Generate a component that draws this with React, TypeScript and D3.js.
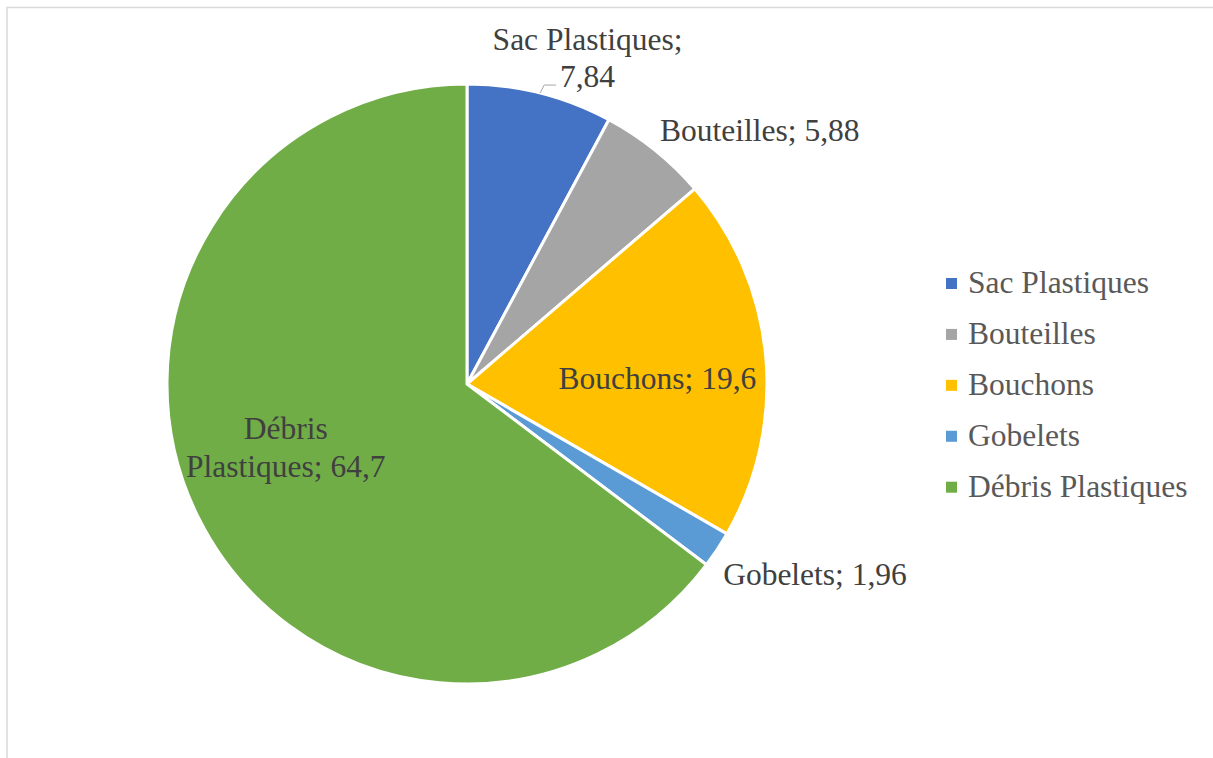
import React from "react";
import * as d3 from "d3";

const categories = ["Sac Plastiques", "Bouteilles", "Bouchons", "Gobelets", "Débris Plastiques"];
const values = [7.84, 5.88, 19.6, 1.96, 64.7];
const valueLabels = ["7,84", "5,88", "19,6", "1,96", "64,7"];
const colors = ["#4472C4", "#A5A5A5", "#FFC000", "#5B9BD5", "#70AD47"];

const W = 1213;
const H = 758;
const CX = 467;
const CY = 384;
const R = 300;
const FONT = "'Liberation Serif', 'Times New Roman', serif";
const FS = 31.5;

// label layout: radius factor, offsets, anchor, line breaks
const layout = [
  { k: 1, dx: 47.4, dy: -43, anchor: "middle", lines: (c: string, v: string) => [c + ";", v], leader: true },
  { k: 1, dx: 5, dy: -9, anchor: "start", lines: (c: string, v: string) => [c + "; " + v], leader: false },
  { k: 0.63, dx: 2.3, dy: 22, anchor: "middle", lines: (c: string, v: string) => [c + "; " + v], leader: false },
  { k: 1, dx: 6, dy: 35, anchor: "start", lines: (c: string, v: string) => [c + "; " + v], leader: false },
  { k: 0.63, dx: -12, dy: -29, anchor: "middle", lines: (c: string, v: string) => ["Débris", "Plastiques; " + v], leader: false },
];

export default function App() {
  const pie = d3.pie<number>().sort(null).value((d) => d);
  const arcs = pie(values);
  const arc = d3.arc<d3.PieArcDatum<number>>().innerRadius(0).outerRadius(R);
  const polar = (a: number, r: number) => [CX + r * Math.sin(a), CY - r * Math.cos(a)];
  const legendY = d3.scalePoint<string>().domain(categories).range([293.3, 497]);

  return (
    <div style={{ position: "fixed", left: 0, top: 0 }}>
      <svg width={W} height={H} style={{ display: "block", background: "#fff" }}>
        <rect x={7} y={7.5} width={1300} height={1000} fill="#fff" stroke="#D9D9D9" strokeWidth={1.5} />
        <g transform={`translate(${CX},${CY})`}>
          {arcs.map((a, i) => (
            <path key={i} d={arc(a) || ""} fill={colors[i]} stroke="#fff" strokeWidth={3} strokeLinejoin="round" />
          ))}
        </g>
        {arcs.map((a, i) => {
          const L = layout[i];
          const mid = (a.startAngle + a.endAngle) / 2;
          const [px, py] = polar(mid, R * L.k);
          const lines = L.lines(categories[i], valueLabels[i]);
          const tx = px + L.dx;
          const ty = py + L.dy;
          return (
            <g key={i}>
              {L.leader && (
                <polyline
                  points={`${px},${py} ${px + 4},${py - 8} ${px + 16},${py - 8}`}
                  fill="none"
                  stroke="#A6A6A6"
                  strokeWidth={1}
                />
              )}
              <text x={tx} y={ty} textAnchor={L.anchor} fontFamily={FONT} fontSize={FS} fill="#404040">
                {lines.map((ln, j) => (
                  <tspan key={j} x={tx} dy={j === 0 ? 0 : 37.3}>
                    {ln}
                  </tspan>
                ))}
              </text>
            </g>
          );
        })}
        <g>
          {categories.map((c, i) => {
            const y = legendY(c) as number;
            return (
              <g key={c}>
                <rect x={946} y={y - 15.3} width={11} height={11} fill={colors[i]} />
                <text x={968} y={y} fontFamily={FONT} fontSize={FS} fill="#595959">
                  {c}
                </text>
              </g>
            );
          })}
        </g>
      </svg>
    </div>
  );
}
